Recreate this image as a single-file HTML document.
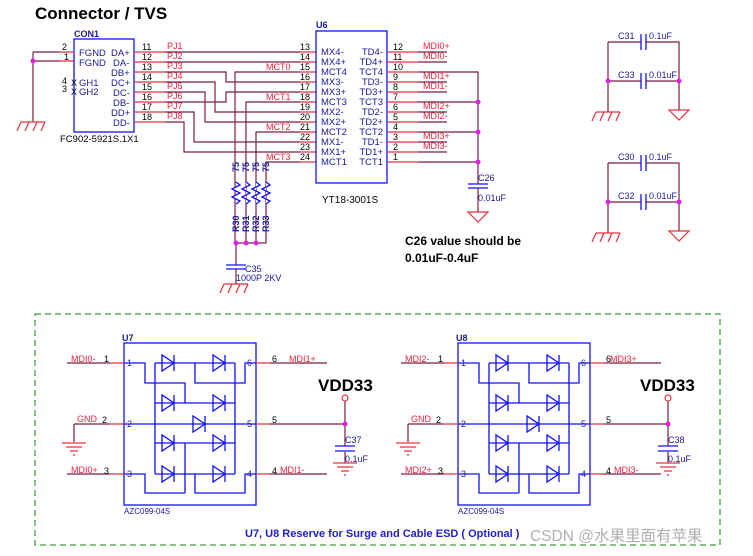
<!DOCTYPE html>
<html><head><meta charset="utf-8"><style>
html,body{margin:0;padding:0;background:#fff;}
svg{display:block;font-family:"Liberation Sans",Arial,sans-serif;}
.w{stroke:#7a1f45;stroke-width:1.2;fill:none}
.r{stroke:#e8303a;stroke-width:1.2;fill:none}
.b{stroke:#1010ff;stroke-width:1.3;fill:none}
.t{font-size:9.5px;fill:#1a1a9a}
.n{font-size:9px;fill:#f0203a}
.k{font-size:9px;fill:#000}
</style></head><body>
<svg width="753" height="556" viewBox="0 0 753 556" xmlns="http://www.w3.org/2000/svg">
<defs>
<g id="d"><path d="M-7,-8 L-7,8 L5,0 Z M5,-8 L5,8" stroke="#1010ff" stroke-width="1.3" fill="none"/></g>
<g id="hg"><path d="M-12,0 H12 M-12,0 L-16,9 M-4,0 L-8,9 M4,0 L0,9 M12,0 L8,9" stroke="#e8303a" stroke-width="1.2" fill="none"/></g>
<g id="tg"><path d="M-10,0 H10 L0,10 Z" stroke="#e8303a" stroke-width="1.2" fill="none"/></g>
<g id="eg"><path d="M-12,0 H12 M-8,4 H8 M-4,8 H4 M-1,12 H1" stroke="#e8303a" stroke-width="1.2" fill="none"/></g>
</defs>
<text x="35" y="19" font-size="17" font-weight="bold">Connector / TVS</text>

<!-- CON1 -->
<text x="74" y="37" font-size="9" font-weight="bold" fill="#1a1a9a">CON1</text>
<rect x="74" y="39" width="60" height="93" class="b"/>
<path class="w" d="M33,52 H60 M33,61 H60 M33,52 V122"/>
<path class="r" d="M60,52 H74 M60,61 H74"/>
<circle cx="33" cy="61" r="2.5" fill="#e020e0"/>
<use href="#hg" x="33" y="122"/>
<text x="62" y="50" class="k">2</text><text x="64" y="60" class="k">1</text>
<text x="62" y="84" class="k">4</text><text x="62" y="92" class="k">3</text>
<text x="71" y="86" class="k">X</text><text x="71" y="95" class="k">X</text>
<g class="t"><text x="79" y="56">FGND</text><text x="79" y="66">FGND</text><text x="79" y="86">GH1</text><text x="79" y="95">GH2</text>
<text x="111" y="56">DA+</text><text x="113" y="66">DA-</text><text x="111" y="76">DB+</text><text x="111" y="86">DC+</text><text x="113" y="96">DC-</text><text x="113" y="106">DB-</text><text x="111" y="116">DD+</text><text x="113" y="126">DD-</text></g>
<text x="60" y="142" font-size="9.5">FC902-5921S.1X1</text>
<g class="k"><text x="142" y="50">11</text><text x="142" y="60">12</text><text x="142" y="70">13</text><text x="142" y="80">14</text><text x="142" y="90">15</text><text x="142" y="100">16</text><text x="142" y="110">17</text><text x="142" y="120">18</text></g>
<g class="n"><text x="167" y="49">PJ1</text><text x="167" y="59">PJ2</text><text x="167" y="69">PJ3</text><text x="167" y="79">PJ4</text><text x="167" y="89">PJ5</text><text x="167" y="99">PJ6</text><text x="167" y="109">PJ7</text><text x="167" y="119">PJ8</text></g>
<path class="r" d="M134,52 H165 M134,62 H165 M134,72 H165 M134,82 H165 M134,92 H165 M134,102 H165 M134,112 H165 M134,122 H165"/>
<path class="w" d="M165,52 H300 M165,62 H300 M165,72 H226 V82 H300 M165,82 H215 V112 H300 M165,92 H205 V122 H300 M165,102 H226 V92 H300 M165,112 H194 V142 H300 M165,122 H184 V152 H300"/>
<path class="w" d="M300,72 H235 V243 M300,102 H246 V243 M300,132 H256 V243 M300,162 H266 V243 H236 M236,243 V265"/>
<path class="r" d="M300,52 H316 M300,62 H316 M300,72 H316 M300,82 H316 M300,92 H316 M300,102 H316 M300,112 H316 M300,122 H316 M300,132 H316 M300,142 H316 M300,152 H316 M300,162 H316"/>
<g class="n"><text x="266" y="70">MCT0</text><text x="266" y="100">MCT1</text><text x="266" y="130">MCT2</text><text x="266" y="160">MCT3</text></g>
<g class="k"><text x="300" y="50">13</text><text x="300" y="60">14</text><text x="300" y="70">15</text><text x="300" y="80">16</text><text x="300" y="90">17</text><text x="300" y="100">18</text><text x="300" y="110">19</text><text x="300" y="120">20</text><text x="300" y="130">21</text><text x="300" y="140">22</text><text x="300" y="150">23</text><text x="300" y="160">24</text></g>
<!-- resistors -->
<g fill="#1a1a9a" font-size="9" font-weight="bold">
<text transform="translate(239,172) rotate(-90)">75</text><text transform="translate(249,172) rotate(-90)">75</text><text transform="translate(259,172) rotate(-90)">75</text><text transform="translate(269,172) rotate(-90)">75</text>
<text transform="translate(239,232) rotate(-90)">R30</text><text transform="translate(249,232) rotate(-90)">R31</text><text transform="translate(259,232) rotate(-90)">R32</text><text transform="translate(269,232) rotate(-90)">R33</text></g>
<g fill="#fff" stroke="#1010ff" stroke-width="1.3">
<path d="M236,182 l4,3 l-8,4 l8,4 l-8,4 l8,4 l-4,3" />
<path d="M246,182 l4,3 l-8,4 l8,4 l-8,4 l8,4 l-4,3" />
<path d="M256,182 l4,3 l-8,4 l8,4 l-8,4 l8,4 l-4,3" />
<path d="M266,182 l4,3 l-8,4 l8,4 l-8,4 l8,4 l-4,3" />
</g>
<circle cx="236" cy="243" r="2.5" fill="#e020e0"/><circle cx="246" cy="243" r="2.5" fill="#e020e0"/><circle cx="256" cy="243" r="2.5" fill="#e020e0"/>
<path class="b" d="M226,265 H246 M226,269 H246"/>
<path class="w" d="M236,269 V284"/>
<use href="#hg" x="236" y="284"/>
<text x="245" y="272" font-size="9" fill="#1a1a9a">C35</text>
<text x="236" y="281" font-size="9" fill="#1a1a9a">1000P 2KV</text>

<!-- U6 -->
<text x="316" y="28" font-size="9" font-weight="bold" fill="#1a1a9a">U6</text>
<rect x="316" y="31" width="71" height="152" class="b"/>
<g class="t"><text x="321" y="55">MX4-</text><text x="321" y="65">MX4+</text><text x="321" y="75">MCT4</text><text x="321" y="85">MX3-</text><text x="321" y="95">MX3+</text><text x="321" y="105">MCT3</text><text x="321" y="115">MX2-</text><text x="321" y="125">MX2+</text><text x="321" y="135">MCT2</text><text x="321" y="145">MX1-</text><text x="321" y="155">MX1+</text><text x="321" y="165">MCT1</text></g>
<g class="t" text-anchor="end"><text x="383" y="55">TD4-</text><text x="383" y="65">TD4+</text><text x="383" y="75">TCT4</text><text x="383" y="85">TD3-</text><text x="383" y="95">TD3+</text><text x="383" y="105">TCT3</text><text x="383" y="115">TD2-</text><text x="383" y="125">TD2+</text><text x="383" y="135">TCT2</text><text x="383" y="145">TD1-</text><text x="383" y="155">TD1+</text><text x="383" y="165">TCT1</text></g>
<text x="322" y="203" font-size="10">YT18-3001S</text>
<path class="r" d="M387,52 H418 M387,62 H418 M387,72 H418 M387,82 H418 M387,92 H418 M387,102 H418 M387,112 H418 M387,122 H418 M387,132 H418 M387,142 H418 M387,152 H418 M387,162 H418"/>
<path class="w" d="M418,52 H447 M418,62 H447 M418,82 H447 M418,92 H447 M418,112 H447 M418,122 H447 M418,142 H447 M418,152 H447 M418,72 H478 V184 M418,102 H478 M418,132 H478 M418,162 H478 M478,188 V212"/>
<circle cx="478" cy="102" r="2.5" fill="#e020e0"/><circle cx="478" cy="132" r="2.5" fill="#e020e0"/><circle cx="478" cy="162" r="2.5" fill="#e020e0"/>
<g class="k"><text x="393" y="50">12</text><text x="393" y="60">11</text><text x="393" y="70">10</text><text x="393" y="80">9</text><text x="393" y="90">8</text><text x="393" y="100">7</text><text x="393" y="110">6</text><text x="393" y="120">5</text><text x="393" y="130">4</text><text x="393" y="140">3</text><text x="393" y="150">2</text><text x="393" y="160">1</text></g>
<g class="n"><text x="423" y="49">MDI0+</text><text x="423" y="59">MDI0-</text><text x="423" y="79">MDI1+</text><text x="423" y="89">MDI1-</text><text x="423" y="109">MDI2+</text><text x="423" y="119">MDI2-</text><text x="423" y="139">MDI3+</text><text x="423" y="149">MDI3-</text></g>
<path class="b" d="M468,184 H488 M468,188 H488"/>
<use href="#tg" x="478" y="212"/>
<text x="478" y="181" font-size="9" fill="#1a1a9a">C26</text>
<text x="478" y="201" font-size="9" fill="#1a1a9a">0.01uF</text>
<text x="405" y="245" font-size="12" font-weight="bold">C26 value should be</text>
<text x="405" y="262" font-size="12" font-weight="bold">0.01uF-0.4uF</text>

<!-- right caps -->
<g>
<path class="w" d="M608,42 H641 M646,42 H679 V110 M608,42 V112 M608,81 H641 M646,81 H679"/>
<path class="b" d="M641,34 V50 M646,34 V50 M641,73 V89 M646,73 V89"/>
<circle cx="608" cy="81" r="2.5" fill="#e020e0"/><circle cx="679" cy="81" r="2.5" fill="#e020e0"/>
<use href="#hg" x="608" y="112"/><use href="#tg" x="679" y="110"/>
<text x="618" y="39" font-size="9" fill="#1a1a9a">C31</text><text x="649" y="39" font-size="9" fill="#1a1a9a">0.1uF</text>
<text x="618" y="78" font-size="9" fill="#1a1a9a">C33</text><text x="649" y="78" font-size="9" fill="#1a1a9a">0.01uF</text>
</g>
<g transform="translate(0,121)">
<path class="w" d="M608,42 H641 M646,42 H679 V110 M608,42 V112 M608,81 H641 M646,81 H679"/>
<path class="b" d="M641,34 V50 M646,34 V50 M641,73 V89 M646,73 V89"/>
<circle cx="608" cy="81" r="2.5" fill="#e020e0"/><circle cx="679" cy="81" r="2.5" fill="#e020e0"/>
<use href="#hg" x="608" y="112"/><use href="#tg" x="679" y="110"/>
<text x="618" y="39" font-size="9" fill="#1a1a9a">C30</text><text x="649" y="39" font-size="9" fill="#1a1a9a">0.1uF</text>
<text x="618" y="78" font-size="9" fill="#1a1a9a">C32</text><text x="649" y="78" font-size="9" fill="#1a1a9a">0.01uF</text>
</g>

<!-- dashed box -->
<rect x="35" y="314" width="685" height="231" fill="none" stroke="#3a9a3a" stroke-width="1.2" stroke-dasharray="6,4"/>
<text x="245" y="537" font-size="11" font-weight="bold" fill="#2020d0">U7, U8 Reserve for Surge and Cable ESD ( Optional )</text>
<text x="530" y="541" font-size="15.5" fill="#b0b0b0" font-family="'Liberation Sans','Noto Sans CJK SC',sans-serif">CSDN @水果里面有苹果</text>

<!-- U7 -->
<g>
<rect x="124" y="343" width="132" height="162" class="b"/>
<path class="b" d="M124,363 H145 V383 H185 V403 M155,363 V474 M235,363 V474 M155,363 H235 M195,363 V383 H245 V363 H256 M155,403 H235 M124,424 H256 M155,443 H235 M185,443 V493 M124,474 H145 V493 H185 M155,474 H235 M195,474 V493 H245 V474 H256"/>
<use href="#d" x="169" y="363"/><use href="#d" x="220" y="363"/>
<use href="#d" x="169" y="403"/><use href="#d" x="220" y="403"/>
<use href="#d" x="200" y="424"/>
<use href="#d" x="169" y="443"/><use href="#d" x="220" y="443"/>
<use href="#d" x="169" y="474"/><use href="#d" x="220" y="474"/>
<path class="w" d="M67,363 H110 M67,474 H110 M74,424 H110 M74,424 V442 M270,363 H327 M270,474 H327"/>
<path class="r" d="M110,363 H124 M110,424 H124 M110,474 H124 M256,363 H270 M256,424 H270 M256,474 H270"/>
<use href="#eg" x="74" y="443"/>
<g font-size="9" fill="#1a1a9a"><text x="127" y="366">1</text><text x="127" y="427">2</text><text x="127" y="477">3</text><text x="247" y="366">6</text><text x="247" y="427">5</text><text x="247" y="477">4</text></g>
<text x="122" y="341" font-size="9" font-weight="bold" fill="#1a1a9a">U7</text>
<text x="124" y="514" font-size="8" fill="#1a1a9a">AZC099-04S</text>
<g class="k"><text x="104" y="362">1</text><text x="102" y="423">2</text><text x="104" y="474">3</text><text x="272" y="362">6</text><text x="272" y="423">5</text><text x="272" y="474">4</text></g>
<g class="n"><text x="71" y="362">MDI0-</text><text x="77" y="422">GND</text><text x="71" y="473">MDI0+</text><text x="289" y="362">MDI1+</text><text x="280" y="473">MDI1-</text></g>
<path class="w" d="M270,424 H345 V401 M345,424 V446 M345,452 V463"/>
<circle cx="345" cy="398" r="3" fill="none" stroke="#e8303a" stroke-width="1.2"/>
<circle cx="345" cy="424" r="2.5" fill="#e020e0"/>
<path class="b" d="M335,446 H355 M335,451 H355"/>
<use href="#eg" x="345" y="463"/>
<text x="345" y="443" font-size="9" fill="#1a1a9a">C37</text>
<text x="345" y="462" font-size="9" fill="#1a1a9a">0.1uF</text>
<text x="318" y="391" font-size="17" font-weight="bold">VDD33</text>
</g>

<g transform="translate(334,0)">
<rect x="124" y="343" width="132" height="162" class="b"/>
<path class="b" d="M124,363 H145 V383 H185 V403 M155,363 V474 M235,363 V474 M155,363 H235 M195,363 V383 H245 V363 H256 M155,403 H235 M124,424 H256 M155,443 H235 M185,443 V493 M124,474 H145 V493 H185 M155,474 H235 M195,474 V493 H245 V474 H256"/>
<use href="#d" x="169" y="363"/><use href="#d" x="220" y="363"/>
<use href="#d" x="169" y="403"/><use href="#d" x="220" y="403"/>
<use href="#d" x="200" y="424"/>
<use href="#d" x="169" y="443"/><use href="#d" x="220" y="443"/>
<use href="#d" x="169" y="474"/><use href="#d" x="220" y="474"/>
<path class="w" d="M67,363 H110 M67,474 H110 M74,424 H110 M74,424 V442 M270,363 H327 M270,474 H327"/>
<path class="r" d="M110,363 H124 M110,424 H124 M110,474 H124 M256,363 H270 M256,424 H270 M256,474 H270"/>
<use href="#eg" x="74" y="443"/>
<g font-size="9" fill="#1a1a9a"><text x="127" y="366">1</text><text x="127" y="427">2</text><text x="127" y="477">3</text><text x="247" y="366">6</text><text x="247" y="427">5</text><text x="247" y="477">4</text></g>
<text x="122" y="341" font-size="9" font-weight="bold" fill="#1a1a9a">U8</text>
<text x="124" y="514" font-size="8" fill="#1a1a9a">AZC099-04S</text>
<g class="k"><text x="104" y="362">1</text><text x="102" y="423">2</text><text x="104" y="474">3</text><text x="272" y="362">6</text><text x="272" y="423">5</text><text x="272" y="474">4</text></g>
<g class="n"><text x="71" y="362">MDI2-</text><text x="77" y="422">GND</text><text x="71" y="473">MDI2+</text><text x="276" y="362">MDI3+</text><text x="280" y="473">MDI3-</text></g>
<path class="w" d="M270,424 H334 V401 M334,424 V446 M334,452 V463"/>
<circle cx="334" cy="398" r="3" fill="none" stroke="#e8303a" stroke-width="1.2"/>
<circle cx="334" cy="424" r="2.5" fill="#e020e0"/>
<path class="b" d="M324,446 H344 M324,451 H344"/>
<use href="#eg" x="334" y="463"/>
<text x="334" y="443" font-size="9" fill="#1a1a9a">C38</text>
<text x="334" y="462" font-size="9" fill="#1a1a9a">0.1uF</text>
<text x="306" y="391" font-size="17" font-weight="bold">VDD33</text>
</g>
</svg>
</body></html>
